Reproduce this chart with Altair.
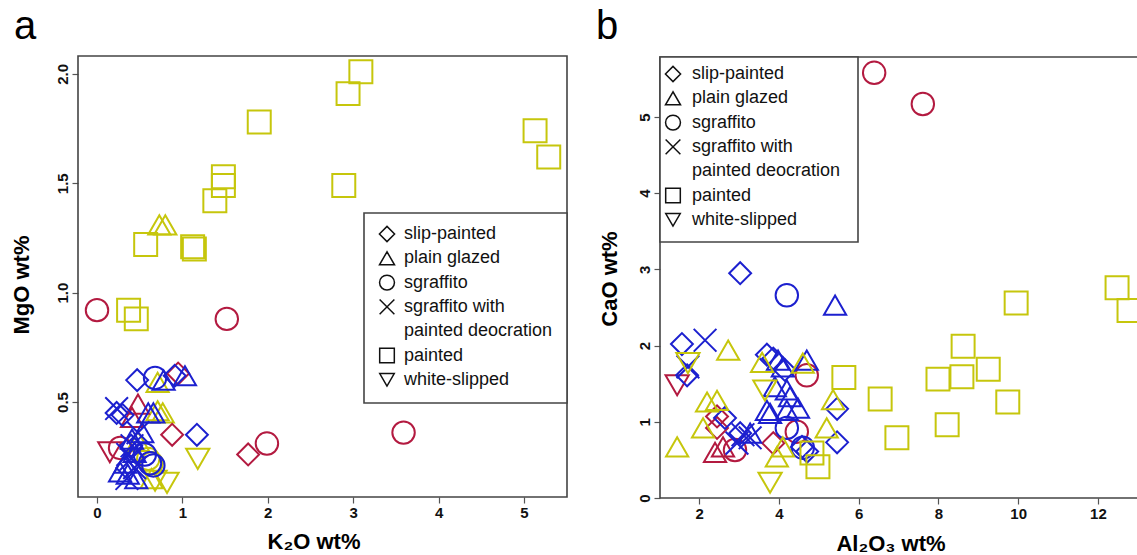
import altair as alt
import pandas as pd

# ---------------- categories / styling ----------------
TYPES = ["slip-painted", "plain glazed", "sgraffito",
         "sgraffito with painted deocration", "painted", "white-slipped"]
CODES = ["SP", "PG", "SG", "SX", "PA", "WS"]
LEGEND_LINES = ["slip-painted", "plain glazed", "sgraffito", "sgraffito with",
                "painted deocration", "painted", "white-slipped"]
SHAPES = ["diamond", "triangle-up", "circle", "M-1,-1L1,1M-1,1L1,-1", "square", "triangle-down"]
SIZES = [480, 540, 400, 300, 361, 540]
LEG_SIZES = [230, 210, 140, 130, 120, 190]
GROUPS = ["red", "blue", "yellow"]
COLORS = ["#B31A40", "#1C20CF", "#C6C60C"]
FONT = "Liberation Sans"

# ---------------- panel a: K2O vs MgO ----------------
a_type = ["PA"] * 14 + ["PG"] * 7 + ["SG"] * 2 + ["WS"] * 3 + \
         ["SG"] * 5 + ["SP"] * 3 + ["PG"] * 2 + ["WS"] + \
         ["SP"] * 6 + ["SG"] * 4 + ["PG"] * 11 + ["SX"] * 7
a_group = ["yellow"] * 26 + ["red"] * 11 + ["blue"] * 28
a_k2o = [3.09, 2.94, 1.90, 1.48, 1.48, 1.38, 2.89, 0.57, 1.12, 1.14, 5.13, 5.29, 0.37, 0.46,
         0.73, 0.80, 0.71, 0.71, 0.77, 0.48, 0.64,
         0.60, 0.64,
         1.18, 0.82, 0.68,
         0.00, 1.52, 1.99, 3.59, 0.27,
         1.77, 0.88, 0.95,
         0.48, 0.41,
         0.15,
         1.17, 0.47, 0.91, 0.23, 0.30, 0.40,
         0.68, 0.56, 0.62, 0.66,
         1.03, 0.78, 0.60, 0.66, 0.33, 0.44, 0.41, 0.53, 0.27, 0.36, 0.46,
         0.23, 0.41, 0.36, 0.44, 0.35, 0.48, 0.40]
a_mgo = [2.01, 1.91, 1.78, 1.53, 1.49, 1.42, 1.49, 1.22, 1.21, 1.20, 1.74, 1.62, 0.92, 0.88,
         1.31, 1.31, 0.59, 0.46, 0.45, 0.32, 0.15,
         0.24, 0.22,
         0.24, 0.13, 0.14,
         0.92, 0.88, 0.31, 0.36, 0.29,
         0.26, 0.35, 0.63,
         0.49, 0.43,
         0.27,
         0.35, 0.60, 0.62, 0.45, 0.44, 0.30,
         0.61, 0.26, 0.22, 0.21,
         0.62, 0.60, 0.45, 0.45, 0.22, 0.27, 0.33, 0.36, 0.18, 0.17, 0.15,
         0.47, 0.30, 0.26, 0.20, 0.15, 0.36, 0.24]

# ---------------- panel b: Al2O3 vs CaO ----------------
b_type = ["SG"] * 5 + ["SP"] * 3 + ["PG"] * 2 + ["WS"] + \
         ["SP"] * 12 + ["SG"] * 3 + ["PG"] * 12 + ["SX"] * 5 + \
         ["PA"] * 14 + ["PG"] * 11 + ["WS"] * 3
b_group = ["red"] * 11 + ["blue"] * 32 + ["yellow"] * 28
b_al2o3 = [6.39, 7.61, 4.70, 4.45, 2.90,
           3.86, 2.45, 2.45,
           2.40, 2.60,
           1.45,
           3.03, 1.57, 1.70, 2.65, 3.70, 3.86, 4.15, 5.46, 5.46, 4.58, 4.71, 3.03,
           4.20, 4.20, 4.60,
           5.41, 3.70, 3.78, 3.90, 4.20, 4.20, 4.48, 4.70, 3.98, 4.10, 4.28, 3.28,
           2.15, 1.72, 3.10, 3.28, 2.95,
           12.48, 12.78, 9.95, 8.62, 9.25, 7.99, 8.59, 9.74, 8.22, 6.96, 6.54, 5.63, 4.83, 4.98,
           1.45, 2.73, 2.20, 2.45, 2.10, 3.95, 5.36, 5.20, 4.60, 3.58, 4.10,
           1.72, 3.78, 3.65]
b_cao = [5.58, 5.17, 1.61, 0.87, 0.63,
         0.72, 1.07, 0.92,
         0.60, 0.67,
         1.48,
         2.95, 2.02, 1.61, 1.05, 1.88, 1.83, 1.68, 1.17, 0.73, 0.67, 0.61, 0.85,
         2.66, 0.92, 0.66,
         2.53, 1.15, 1.11, 1.46, 1.42, 1.15, 1.18, 1.81, 1.81, 1.72, 1.33, 0.85,
         2.07, 1.72, 0.83, 0.79, 0.72,
         2.76, 2.46, 2.56, 1.99, 1.69, 1.56, 1.59, 1.26, 0.96, 0.79, 1.30, 1.58, 0.59, 0.41,
         0.67, 1.94, 1.26, 1.28, 0.92, 0.54, 1.29, 0.92, 1.77, 1.78, 0.67,
         1.77, 0.20, 1.41]

# ---------------- layout (pixels) ----------------
W, H = 1137, 555
A_XDOM, A_XRNG = [-0.2225, 5.504], [78, 567]
A_YDOM, A_YRNG = [0.0656, 2.082], [497, 56]
B_XDOM, B_XRNG = [1.02, 12.98], [660, 1137]
B_YDOM, B_YRNG = [0.0, 5.787], [498, 57]

code2type = dict(zip(CODES, TYPES))
df_a = pd.DataFrame({"type": [code2type[c] for c in a_type], "group": a_group,
                     "x": a_k2o, "y": a_mgo})
df_b = pd.DataFrame({"type": [code2type[c] for c in b_type], "group": b_group,
                     "x": b_al2o3, "y": b_cao})

shape_enc = alt.Shape("type:N", scale=alt.Scale(domain=TYPES, range=SHAPES), legend=None)


def points(df, xdom, xrng, ydom, yrng, xvals, yvals, xfmt, yfmt):
    xaxis = alt.Axis(values=xvals, format=xfmt, orient="bottom", offset=yrng[0] - H,
                     domain=False, grid=False, tickSize=6, tickColor="#555", tickWidth=1.2,
                     labelFont=FONT, labelFontWeight="bold", labelFontSize=15,
                     labelColor="#111", labelPadding=2, labelFlush=False,
                     labelOverlap=False, labelBound=False)
    yaxis = alt.Axis(values=yvals, format=yfmt, orient="left", offset=-xrng[0],
                     domain=False, grid=False, tickSize=6, tickColor="#555", tickWidth=1.2,
                     labelFont=FONT, labelFontWeight="bold", labelFontSize=15,
                     labelColor="#111", labelPadding=2, labelAngle=270,
                     labelAlign="center", labelBaseline="bottom", labelFlush=False,
                     labelOverlap=False, labelBound=False)
    return alt.Chart(df).mark_point(filled=False, strokeWidth=2, opacity=1).encode(
        x=alt.X("x:Q", scale=alt.Scale(domain=xdom, range=xrng, nice=False, zero=False),
                axis=xaxis, title=None),
        y=alt.Y("y:Q", scale=alt.Scale(domain=ydom, range=yrng, nice=False, zero=False),
                axis=yaxis, title=None),
        shape=shape_enc,
        color=alt.Color("group:N", scale=alt.Scale(domain=GROUPS, range=COLORS), legend=None),
        size=alt.Size("type:N", scale=alt.Scale(domain=TYPES, range=SIZES), legend=None),
    )


def frame(x0, x1, y0, y1, fill="transparent"):
    return alt.Chart(pd.DataFrame({"k": [0]})).mark_rect(
        fill=fill, stroke="#444", strokeWidth=1.6).encode(
        x=alt.value(x0), x2=alt.value(x1), y=alt.value(y0), y2=alt.value(y1))


def legend(box, sym_x, txt_x, row0, step):
    slots = [0, 1, 2, 3, 5, 6]
    sym = pd.DataFrame({"type": TYPES,
                        "px": [sym_x] * len(TYPES),
                        "py": [row0 + step * s for s in slots]})
    txt = pd.DataFrame({"line": LEGEND_LINES,
                        "px": [txt_x] * len(LEGEND_LINES),
                        "py": [row0 + step * i for i in range(len(LEGEND_LINES))]})
    box_layer = frame(*box, fill="white")
    sym_layer = alt.Chart(sym).mark_point(filled=False, strokeWidth=1.5, color="#111",
                                          opacity=1).encode(
        x=alt.X("px:Q", scale=None, axis=None),
        y=alt.Y("py:Q", scale=None, axis=None),
        shape=shape_enc,
        size=alt.Size("type:N", scale=alt.Scale(domain=TYPES, range=LEG_SIZES), legend=None),
    )
    txt_layer = alt.Chart(txt).mark_text(align="left", baseline="middle", font=FONT,
                                         fontSize=18, color="#111").encode(
        x=alt.X("px:Q", scale=None, axis=None),
        y=alt.Y("py:Q", scale=None, axis=None),
        text="line:N",
    )
    return [box_layer, sym_layer, txt_layer]


def label(text, x, y, size, weight="bold", angle=0, align="center", baseline="alphabetic"):
    return alt.Chart(pd.DataFrame({"t": [text]})).mark_text(
        font=FONT, fontSize=size, fontWeight=weight, angle=angle, align=align,
        baseline=baseline, color="#000").encode(
        x=alt.value(x), y=alt.value(y), text="t:N")


layers = [
    frame(A_XRNG[0], A_XRNG[1], A_YRNG[1], A_YRNG[0]),
    frame(B_XRNG[0], B_XRNG[1] + 5, B_YRNG[1], B_YRNG[0]),
    points(df_a, A_XDOM, A_XRNG, A_YDOM, A_YRNG, [0, 1, 2, 3, 4, 5], [0.5, 1.0, 1.5, 2.0], "d", ".1f"),
    points(df_b, B_XDOM, B_XRNG, B_YDOM, B_YRNG, [2, 4, 6, 8, 10, 12], [0, 1, 2, 3, 4, 5], "d", "d"),
    *legend((364, 567, 213, 403), 387, 404, 234, 24.3),
    *legend((B_XRNG[0], 858, B_YRNG[1], 242), 673, 692, 74, 24.3),
    label("a", 14, 39, 40, weight="normal", align="left"),
    label("b", 596, 39, 40, weight="normal", align="left"),
    label("K₂O wt%", 314, 549, 22),
    label("Al₂O₃ wt%", 891, 551, 22),
    label("MgO wt%", 22, 285, 22, angle=270, baseline="middle"),
    label("CaO wt%", 610, 279, 22, angle=270, baseline="middle"),
]

chart = alt.layer(*layers).resolve_scale(
    x="independent", y="independent", size="independent"
).properties(
    width=W, height=H, padding=0, background="white",
    autosize=alt.AutoSizeParams(type="none"),
).configure_view(strokeWidth=0)

chart.save("out.html", embed_options={"renderer": "svg", "actions": False})
